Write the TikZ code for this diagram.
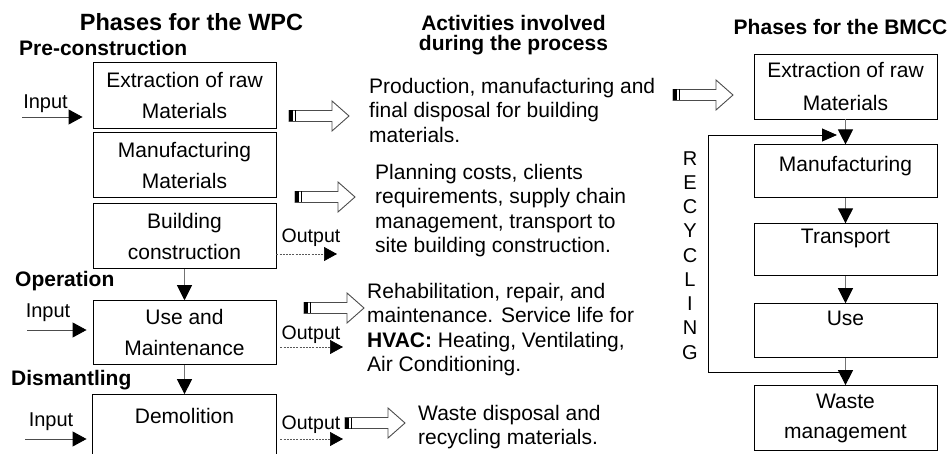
\documentclass[tikz,border=0pt]{standalone}
\usepackage{fontspec}
\setmainfont{Liberation Sans}
\usetikzlibrary{arrows.meta,positioning}

\begin{document}
\begin{tikzpicture}
    [x=1pt, y=-1pt, node distance=25pt,
     box/.style={draw, line width=0.9pt, minimum width=183pt, align=center, inner sep=0pt, font=\fontsize{21}{31}\selectfont},
     heading/.style={font=\bfseries\fontsize{21}{20}\selectfont, inner sep=0pt},
     txt/.style={align=left, anchor=north west, inner sep=0pt, font=\fontsize{21}{24.5}\selectfont},
     lbl/.style={font=\fontsize{20}{20}\selectfont, inner sep=0pt, anchor=base},
     toplbl/.style={anchor=north, inner sep=0pt, font=\fontsize{21}{21}\selectfont},
     flow/.style={draw=black!55, line width=0.9pt, -{Triangle[length=15pt,width=15pt,color=black]}},
     inflow/.style={draw=black!70, line width=0.9pt, -{Triangle[length=14pt,width=15pt,color=black]}},
     outflow/.style={draw=black!65, line width=0.7pt, dash pattern=on 2pt off 1.2pt, -{Triangle[length=13pt,width=14pt,color=black]}},
     recflow/.style={draw=black, line width=0.9pt, -{Triangle[length=15pt,width=13pt]}},
     hollow/.pic={
       \draw[black!70, line width=0.9pt] (0,-5.5) -- (43,-5.5) -- (43,-15) -- (60,0) -- (43,15) -- (43,5.5) -- (0,5.5) -- cycle;
       \fill (0,-5.5) rectangle (4,5.5);
       \draw[line width=1.2pt] (6.5,-5.5) -- (6.5,5.5);
     }]
    \useasboundingbox (0,0) rectangle (951,454);
    %\draw [help lines, step=10] (0,0) grid (951,454);

    % WPC
    \node[heading, font=\bfseries\fontsize{23.5}{24}\selectfont, anchor=base] (wpc) at (191.5,30.4) {Phases for the WPC};
    \node[heading, anchor=base west] (pre) at (19,55.5) {Pre-construction};
    \node[box, minimum height=66pt] (w1) at (184.5,95) {Extraction of raw\\Materials};
    \node[box, minimum height=65pt, below=4pt of w1] (w2) {Manufacturing\\Materials};
    \node[box, minimum height=65pt, below=5pt of w2] (w3) {Building\\construction};
    \node[heading, anchor=base west] (op) at (15,286.5) {Operation};
    \node[box, minimum height=64pt, below=31pt of w3] (w4) {Use and\\Maintenance};
    \node[heading, anchor=base west] (dis) at (11,385.5) {Dismantling};
    \node[box, draw=none, minimum height=63pt, below=29pt of w4,
          label={[toplbl, yshift=-13.5pt]north:Demolition}] (w5) {};
    \draw[line width=0.9pt] (w5.south west) |- (w5.north east) -- (w5.south east);
    \draw[flow] (w3) -- (w4);
    \draw[flow] (w4) -- (w5);

    \coordinate (i1) at (22,117);
    \coordinate (i2) at (27,330);
    \coordinate (i3) at (25,439);
    \draw[inflow, shorten >=10pt] (i1) -- (w1.west |- i1);
    \draw[inflow, shorten >=6pt] (i2) -- (w4.west |- i2);
    \draw[inflow, shorten >=6pt] (i3) -- (w5.west |- i3);
    \node[lbl] (in1) at (45.5,109) {Input};
    \node[lbl] (in2) at (48,318) {Input};
    \node[lbl] (in3) at (51,427) {Input};

    \coordinate (o3) at (337,254);
    \coordinate (o4) at (343,347);
    \coordinate (o5) at (343,439);
    \draw[outflow] (w3.east |- o3) -- (o3);
    \draw[outflow, shorten <=4pt] (w4.east |- o4) -- (o4);
    \draw[outflow, shorten <=4pt] (w5.east |- o5) -- (o5);
    \node[lbl, font=\fontsize{19.5}{20}\selectfont] (out3) at (311,243) {Output};
    \node[lbl, font=\fontsize{19.5}{20}\selectfont] (out4) at (311,340) {Output};
    \node[lbl, font=\fontsize{19.5}{20}\selectfont] (out5) at (311,429) {Output};

    % activities
    \node[heading, align=center, anchor=north] (act) at (513.5,15.5) {Activities involved\\during the process};
    \node[txt] (ta) at (369,78) {Production, manufacturing and\\final disposal for building\\materials.};
    \node[txt] (tb) at (375,164) {Planning costs, clients\\requirements, supply chain\\management, transport to\\site building construction.};
    \node[txt] (tc) at (367,283) {Rehabilitation, repair, and\\maintenance. Service life for\\\textbf{HVAC:} Heating, Ventilating,\\Air Conditioning.};
    \node[txt] (td) at (418,405) {Waste disposal and\\recycling materials.};
    \pic at (289,116) {hollow};
    \pic at (295,197) {hollow};
    \pic at (304,308) {hollow};
    \pic at (345,423) {hollow};
    \pic at (673,95) {hollow};

    % BMCC
    \node[heading, anchor=base] (bmcc) at (840.5,34.5) {Phases for the BMCC};
    \node[box, minimum height=65pt, font=\fontsize{21}{33}\selectfont] (r1) at (845.5,86.5) {Extraction of raw\\Materials};
    \node[box, minimum height=53pt, below=of r1,
          label={[toplbl, yshift=-11.5pt]north:Manufacturing}] (r2) {};
    \node[box, minimum height=52pt, below=of r2,
          label={[toplbl, yshift=-5.5pt]north:Transport}] (r3) {};
    \node[box, minimum height=54pt, below=27pt of r3,
          label={[toplbl, yshift=-7.5pt]north:Use}] (r4) {};
    \node[box, minimum height=65pt, below=27pt of r4, font=\fontsize{21}{30}\selectfont] (r5) {Waste\\management};
    \foreach \a/\b in {r1/r2, r2/r3, r3/r4, r4/r5}
      \draw[flow] (\a) -- (\b);

    \coordinate (recB) at (708,372);
    \coordinate (recT) at (708,135);
    \draw[recflow, shorten >=8.5pt] (r4.south |- recB) -- (recB) -- (recT) -- (r1.south |- recT);
    \foreach \c [count=\i] in {R,E,C,Y,C,L,I,N,G}
      \node[lbl] (rec\i) at (690,141+24.25*\i) {\c};
\end{tikzpicture}
\end{document}
